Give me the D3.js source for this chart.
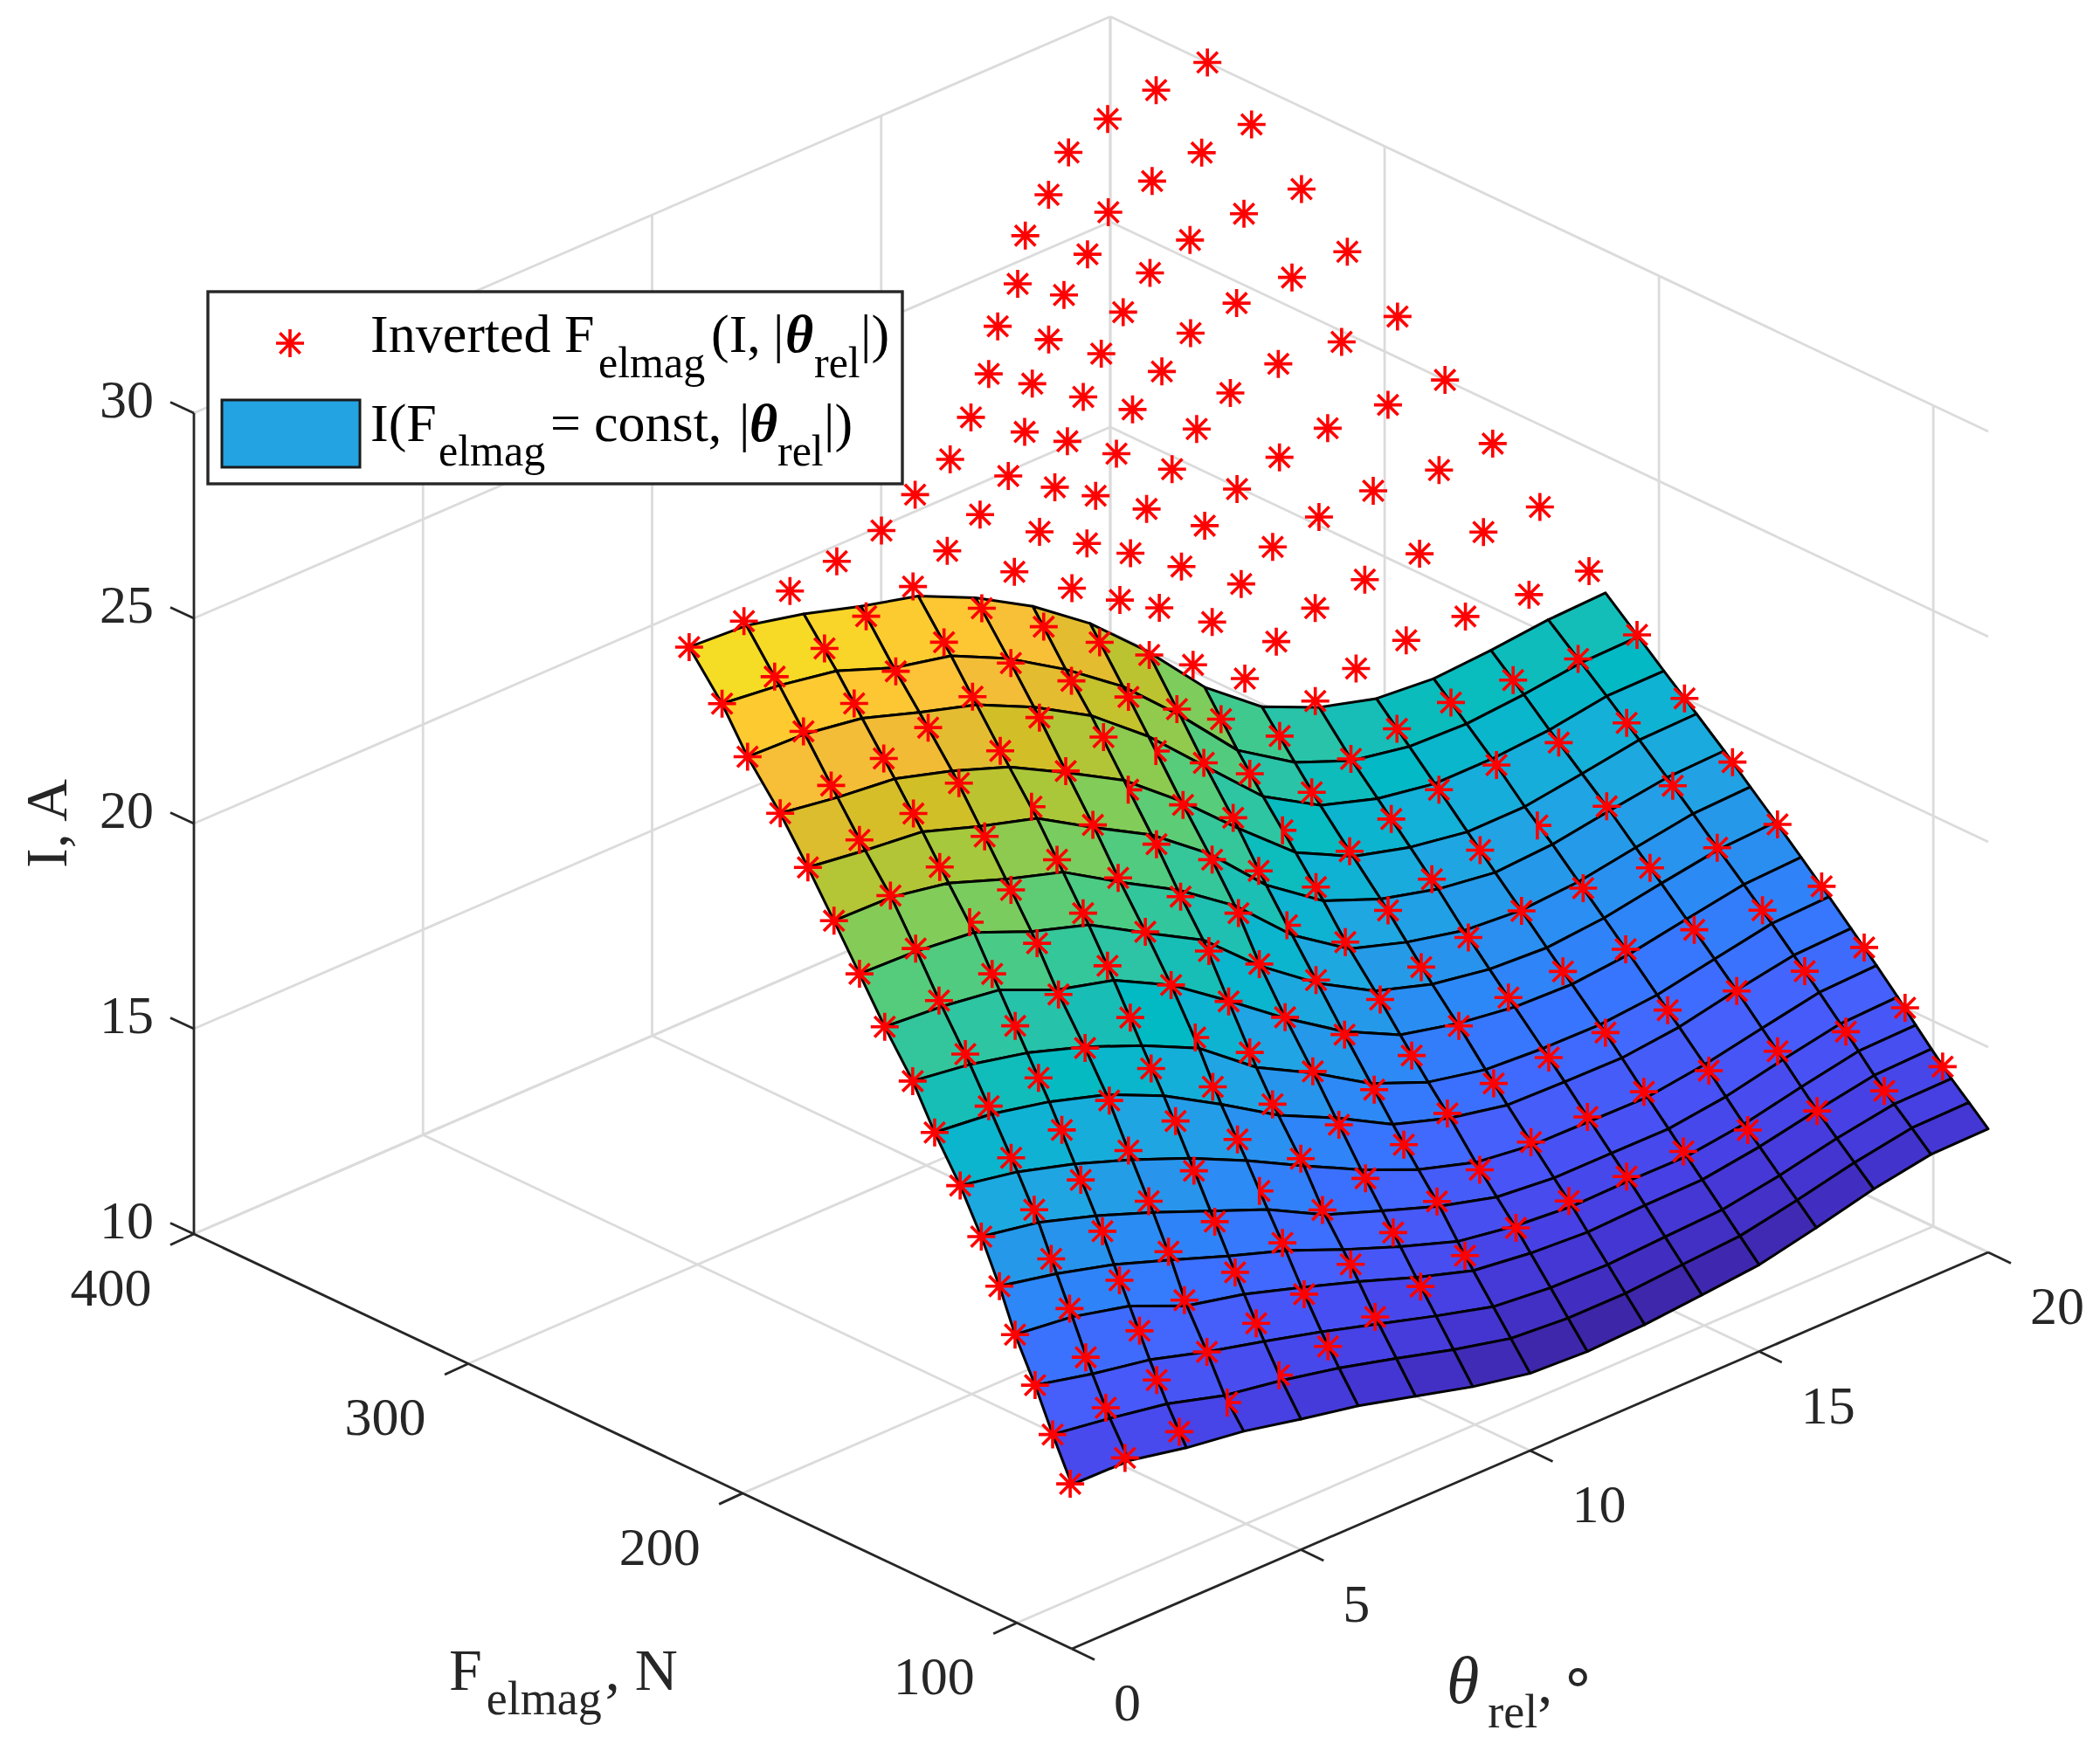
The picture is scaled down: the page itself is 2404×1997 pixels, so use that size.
<!DOCTYPE html>
<html>
<head>
<meta charset="utf-8">
<script src="https://cdn.jsdelivr.net/npm/d3@7"></script>
<style>
    html, body { margin: 0; padding: 0; background: #fff; }
    text { font-family: "Liberation Serif", serif; }
</style>
</head>
<body>
<script>
// values
const thetaTicks = [0, 5, 10, 15, 20];
const forceTicks = [100, 200, 300, 400];
const currentTicks = [10, 15, 20, 25, 30];

const thetaValues = [0, 1.25, 2.5, 3.75, 5, 6.25, 7.5, 8.75, 10, 11.25, 12.5, 13.75, 15, 16.25, 17.5, 18.75, 20];
const forceRows = [80, 87, 93.4, 100.7, 106.4, 113, 120.7, 130, 138, 148.2, 157.4, 166.7, 176.2, 186.3, 198.2, 207.5, 219.5];
const currentLevels = [14, 15, 16, 17, 18, 19, 20, 21, 22, 23, 24, 25, 26, 27, 28, 29, 30];

// I(F, theta): one row per forceRows entry, one column per thetaValues entry
const surfaceCurrent = [
    [14, 13.98, 13.69, 13.49, 13.18, 12.9, 12.53, 12.16, 11.88, 11.81, 11.86, 11.98, 12.11, 12.41, 12.75, 12.99, 13.01],
    [15, 14.79, 14.54, 14.14, 13.9, 13.6, 13.23, 12.84, 12.51, 12.4, 12.4, 12.5, 12.59, 12.86, 13.17, 13.41, 13.43],
    [16, 15.67, 15.41, 15, 14.65, 14.28, 13.87, 13.46, 13.08, 12.94, 12.9, 12.97, 13.03, 13.26, 13.56, 13.79, 13.81],
    [17, 16.83, 16.49, 15.89, 15.57, 15.13, 14.67, 14.17, 13.73, 13.55, 13.46, 13.51, 13.53, 13.73, 14.01, 14.26, 14.3],
    [18, 17.7, 17.32, 16.83, 16.32, 15.85, 15.27, 14.74, 14.26, 14.03, 13.91, 13.93, 13.92, 14.1, 14.4, 14.67, 14.7],
    [19, 18.74, 18.3, 17.78, 17.21, 16.64, 15.91, 15.4, 14.91, 14.53, 14.39, 14.39, 14.38, 14.56, 14.86, 15.13, 15.18],
    [20, 19.73, 19.32, 18.82, 18.25, 17.59, 16.86, 16.16, 15.56, 15.13, 14.95, 14.93, 14.91, 15.1, 15.38, 15.65, 15.7],
    [21, 20.85, 20.54, 20.11, 19.48, 18.67, 17.8, 17.13, 16.37, 15.92, 15.63, 15.59, 15.57, 15.72, 16.01, 16.26, 16.31],
    [22, 21.8, 21.48, 21.02, 20.45, 19.78, 18.71, 17.97, 17.11, 16.54, 16.24, 16.15, 16.13, 16.25, 16.52, 16.78, 16.83],
    [23, 22.89, 22.69, 22.09, 21.72, 21, 20.01, 18.98, 18.06, 17.37, 17.04, 16.84, 16.79, 16.92, 17.17, 17.41, 17.47],
    [24, 23.95, 23.8, 23.22, 22.78, 21.98, 21.2, 19.96, 18.94, 18.15, 17.71, 17.47, 17.39, 17.51, 17.75, 17.97, 18.04],
    [25, 24.97, 24.71, 24.2, 23.77, 22.92, 22.13, 21.14, 19.82, 18.88, 18.44, 18.12, 18.01, 18.1, 18.33, 18.55, 18.6],
    [26, 25.81, 25.66, 25.19, 24.78, 23.95, 23.17, 22.11, 20.74, 19.75, 19.19, 18.83, 18.63, 18.71, 18.93, 19.13, 19.18],
    [27, 26.78, 26.63, 26.22, 25.71, 24.97, 24.18, 23.07, 21.8, 20.61, 19.91, 19.53, 19.3, 19.31, 19.51, 19.73, 19.76],
    [28, 27.95, 27.73, 27.27, 26.85, 26.19, 25.38, 24.27, 22.93, 21.6, 20.78, 20.34, 20.1, 20.1, 20.2, 20.42, 20.43],
    [29, 28.84, 28.59, 28.06, 27.75, 27.08, 26.21, 25.19, 23.88, 22.43, 21.53, 20.97, 20.71, 20.66, 20.77, 20.94, 20.97],
    [30, 29.92, 29.6, 29.18, 28.83, 28.18, 27.37, 26.35, 25.07, 23.59, 22.51, 21.89, 21.5, 21.38, 21.47, 21.61, 21.66]
];

// F(I, theta): one row per currentLevels entry, one column per thetaValues entry
const invertedForce = [
    [80.6, 81.5, 82.6, 86, 88, 91, 94.7, 99, 103.7, 106, 107.6, 107.4, 107.6, 105, 100.6, 97, 96.6],
    [87, 88.5, 90.8, 93.4, 96.3, 99.7, 103.6, 109, 113.9, 119.2, 121.4, 121.7, 122, 119.2, 115, 111, 110.3],
    [93.4, 95.8, 97.1, 101.6, 104, 107.6, 113.9, 119.1, 126, 131, 135, 135.8, 136, 134.2, 129.9, 126, 125.2],
    [100.7, 101.7, 104.4, 107.4, 111.4, 116, 121.8, 128.8, 136.8, 144, 147.7, 150.5, 151.5, 149.5, 145.4, 141.4, 140.7],
    [106.4, 108.4, 110.6, 114.6, 119, 124, 132.1, 138.3, 147.6, 155.5, 161.4, 165.1, 166.6, 165, 161.5, 157.9, 156.8],
    [113, 114.6, 118.5, 122, 125.7, 133, 140.4, 148.4, 158, 168.2, 173.5, 178.4, 181.7, 181.7, 177.3, 174.1, 173.2],
    [120.7, 123, 125.4, 129, 134.6, 139.4, 148.1, 157.8, 168.6, 178.9, 187.5, 193.2, 196.7, 196.6, 194.8, 190.9, 190.7],
    [130, 131.2, 133.9, 137.8, 142.2, 148.2, 155.3, 165.4, 178.9, 191.1, 201.3, 207.9, 212, 213.2, 211.4, 208.6, 208],
    [138, 139.7, 142.4, 147.5, 150.5, 157.6, 165.6, 175, 188.2, 203, 213, 220.9, 226.9, 229.5, 228.8, 226.5, 225.5],
    [148.2, 149.3, 150.8, 155.3, 159.4, 167.5, 174.4, 185.6, 198.9, 213.5, 225.7, 235.1, 241.8, 244.6, 245.5, 243.1, 243.4],
    [157.4, 157.8, 159, 164.8, 168.9, 176.7, 184.7, 195.5, 208.7, 223.7, 237.6, 247.9, 257.3, 261.3, 262.4, 259.3, 260.6],
    [166.7, 167, 169.9, 174.4, 178.2, 186.6, 193.7, 205.5, 218.8, 236, 248.8, 261.2, 270.3, 275.7, 279, 277.9, 278],
    [176.2, 178.3, 179.5, 183.8, 189.6, 196.2, 205.4, 216, 229.5, 246.5, 261.5, 273.1, 285, 293.6, 297, 294.8, 295.3],
    [186.3, 188.6, 190.3, 195, 199.7, 206.6, 215.5, 226.1, 241.5, 259.2, 272.5, 287.5, 297.7, 308.1, 312.2, 312.9, 313.6],
    [198.2, 198.7, 201.1, 206.8, 210.1, 217.2, 226.2, 237.9, 253.2, 269.5, 284.6, 298.9, 311.8, 322.9, 329.2, 330.4, 330.3],
    [207.5, 209.2, 211.9, 217.6, 221.4, 229.8, 238.7, 249.3, 264.2, 282.3, 297.2, 312.5, 324.8, 338.1, 343, 345.8, 348.5],
    [219.5, 220.4, 224.5, 228.3, 232.9, 241.5, 249.6, 262.9, 277.3, 294.9, 308.5, 326.6, 339, 352.6, 359.2, 362.4, 364.6]
];

// markers the surface half covers: [current, theta]
const halfHidden = [[24, 2.5], [25, 5], [17, 6.25], [21, 11.25], [20, 10], [20, 6.25], [24, 7.5], [24, 8.75], [19, 16.25], [14, 3.75], [14, 5]];

// parula colormap samples
const parula = ["#3e26a8", "#4332cb", "#4741e5", "#4852f4", "#4563fd", "#3875fe", "#2d87f7", "#2796eb", "#20a5e3", "#12b1d6", "#02bac3",
    "#24c1ae", "#37c897", "#57cc7a", "#81cc59", "#abc739", "#d1bf27", "#efba36", "#fec338", "#fcce2d", "#f5e023", "#f9fb0e"];

const width = 2404,
    height = 1997,
    origin = { x: 1227, y: 1888 };

// orthographic projection: every data axis moves the point along a fixed screen direction
const thetaX = d3.scaleLinear().domain([0, 20]).range([0, 1049]);
const thetaY = d3.scaleLinear().domain([0, 20]).range([0, -454]);
const forceX = d3.scaleLinear().domain([80, 400]).range([0, -1005]);
const forceY = d3.scaleLinear().domain([80, 400]).range([0, -475]);
const currentY = d3.scaleLinear().domain([10, 30]).range([0, -940]);

const project = (theta, force, current) => [
    origin.x + thetaX(theta) + forceX(force),
    origin.y + thetaY(theta) + forceY(force) + currentY(current)
];

const color = d3.scaleLinear()
    .domain(d3.range(parula.length).map(i => 11.81 + i * (30 - 11.81) / (parula.length - 1)))
    .range(parula);

const svg = d3.select("body")
    .append("svg")
    .attr("width", width)
    .attr("height", height)
    .style("display", "block");

const line = d3.line();

function drawSegment(g, a, b, stroke, w) {
    g.append("path")
        .attr("d", line([a, b]))
        .attr("fill", "none")
        .attr("stroke", stroke)
        .attr("stroke-width", w);
}

// grid on the floor and the two back walls
const grid = svg.append("g");
const gridColor = "#dbdbdb",
    gridWidth = 2.8;

thetaTicks.forEach(t => {
    drawSegment(grid, project(t, 80, 10), project(t, 400, 10), gridColor, gridWidth);
    if (t > 0) drawSegment(grid, project(t, 400, 10), project(t, 400, 30), gridColor, gridWidth);
});
forceTicks.forEach(f => {
    drawSegment(grid, project(0, f, 10), project(20, f, 10), gridColor, gridWidth);
    drawSegment(grid, project(20, f, 10), project(20, f, 30), gridColor, gridWidth);
});
drawSegment(grid, project(20, 80, 10), project(20, 400, 10), gridColor, gridWidth);
currentTicks.forEach(c => {
    drawSegment(grid, project(0, 400, c), project(20, 400, c), gridColor, gridWidth);
    drawSegment(grid, project(20, 400, c), project(20, 80, c), gridColor, gridWidth);
});

// axes and ticks
const axes = svg.append("g");
const axisColor = "#262626",
    axisWidth = 2.8;

drawSegment(axes, project(0, 400, 10), project(0, 80, 10), axisColor, axisWidth);
drawSegment(axes, project(0, 80, 10), project(20, 80, 10), axisColor, axisWidth);
drawSegment(axes, project(0, 400, 10), project(0, 400, 30), axisColor, axisWidth);

const tickFont = 62;

forceTicks.forEach(f => {
    const p = project(0, f, 10);
    drawSegment(axes, p, [p[0] - 27, p[1] + 12.5], axisColor, axisWidth);
    axes.append("text")
        .attr("x", p[0] - 95)
        .attr("y", p[1] + 62 + 20)
        .attr("text-anchor", "middle")
        .attr("font-size", tickFont)
        .attr("fill", axisColor)
        .text(f);
});

thetaTicks.forEach(t => {
    const p = project(t, 80, 10);
    drawSegment(axes, p, [p[0] + 26, p[1] + 12.5], axisColor, axisWidth);
    axes.append("text")
        .attr("x", p[0] + 48)
        .attr("y", p[1] + 62 + 20)
        .attr("font-size", tickFont)
        .attr("fill", axisColor)
        .text(t);
});

currentTicks.forEach(c => {
    const p = project(0, 400, c);
    drawSegment(axes, p, [p[0] - 27, p[1] - 12.5], axisColor, axisWidth);
    axes.append("text")
        .attr("x", 176)
        .attr("y", p[1] - 15 + 20)
        .attr("text-anchor", "end")
        .attr("font-size", tickFont)
        .attr("fill", axisColor)
        .text(c);
});

// axis labels
const labelFont = 68,
    subFont = 54;

axes.append("text")
    .attr("transform", "translate(54,943) rotate(-90)")
    .attr("text-anchor", "middle")
    .attr("dy", "0.33em")
    .attr("font-size", labelFont)
    .attr("fill", axisColor)
    .text("I, A");

const forceLabel = axes.append("text")
    .attr("x", 514)
    .attr("y", 1935)
    .attr("font-size", labelFont)
    .attr("fill", axisColor);
forceLabel.append("tspan").text("F");
forceLabel.append("tspan").attr("font-size", subFont).attr("dx", 5).attr("dy", 28).text("elmag");
forceLabel.append("tspan").attr("dx", 4).attr("dy", -28).text(", N");

const thetaLabel = axes.append("text")
    .attr("x", 1656)
    .attr("y", 1950)
    .attr("font-size", labelFont)
    .attr("fill", axisColor);
thetaLabel.append("tspan").attr("font-style", "italic").attr("font-size", 76).text("θ");
thetaLabel.append("tspan").attr("font-size", subFont).attr("dx", 10).attr("dy", 28).text("rel");
thetaLabel.append("tspan").attr("dy", -28).text(",");
thetaLabel.append("tspan").attr("dx", 8).attr("dy", -8).text("∘");

// surface faces, far corner first so nearer faces cover farther ones
const faces = [];
for (let i = forceRows.length - 2; i >= 0; i--) {
    for (let j = thetaValues.length - 2; j >= 0; j--) {
        faces.push({ i, j });
    }
}

const node = (i, j) => project(thetaValues[j], forceRows[i], surfaceCurrent[i][j]);

svg.append("g")
    .selectAll("path")
    .data(faces)
    .join("path")
    .attr("d", d => line([node(d.i, d.j), node(d.i, d.j + 1), node(d.i + 1, d.j + 1), node(d.i + 1, d.j)]) + "Z")
    .attr("fill", d => color(surfaceCurrent[d.i][d.j]))
    .attr("stroke", "#000")
    .attr("stroke-width", 3)
    .attr("stroke-linejoin", "round");

// asterisk markers
const spokes = [[0, -16], [0, 16], [16, 0], [-16, 0], [11.7, -11.7], [11.7, 11.7], [-11.7, -11.7], [-11.7, 11.7]];

const asterisk = (x, y, half) => spokes
    .filter(s => !half || s[0] >= 0)
    .map(s => `M${x},${y}L${x + s[0]},${y + s[1]}`)
    .join("");

const markers = [];
currentLevels.forEach((c, k) => {
    thetaValues.forEach((t, j) => {
        markers.push({ c, t, f: invertedForce[k][j] });
    });
});

const isHalf = d => halfHidden.some(h => h[0] === d.c && h[1] === d.t);

svg.append("g")
    .selectAll("path")
    .data(markers)
    .join("path")
    .attr("d", d => {
        const p = project(d.t, d.f, d.c);
        return asterisk(p[0], p[1], isHalf(d));
    })
    .attr("fill", "none")
    .attr("stroke", "#ff0000")
    .attr("stroke-width", 3.6);

// legend
const legend = svg.append("g");

legend.append("rect")
    .attr("x", 238)
    .attr("y", 334)
    .attr("width", 795)
    .attr("height", 220)
    .attr("fill", "#fff")
    .attr("stroke", axisColor)
    .attr("stroke-width", 3.4);

legend.append("path")
    .attr("d", asterisk(332, 393, false))
    .attr("fill", "none")
    .attr("stroke", "#ff0000")
    .attr("stroke-width", 3.6);

legend.append("rect")
    .attr("x", 254)
    .attr("y", 458)
    .attr("width", 158)
    .attr("height", 77)
    .attr("fill", "#23a3e2")
    .attr("stroke", "#1a1a1a")
    .attr("stroke-width", 3);

function legendText(items) {
    items.forEach(d => {
        const t = legend.append("text")
            .attr("x", d.x)
            .attr("y", d.y)
            .attr("font-size", d.size || 62)
            .attr("fill", "#000")
            .text(d.s);
        if (d.theta) t.attr("font-style", "italic").attr("font-weight", "bold");
    });
}

legendText([
    { x: 424, y: 403, s: "Inverted F" },
    { x: 685, y: 432, s: "elmag", size: 50 },
    { x: 814, y: 403, s: "(I," },
    { x: 885, y: 403, s: "|" },
    { x: 899, y: 403, s: "θ", theta: true },
    { x: 932, y: 432, s: "rel", size: 50 },
    { x: 985, y: 403, s: "|)" },
    { x: 424, y: 505, s: "I(F" },
    { x: 502, y: 533, s: "elmag", size: 50 },
    { x: 630, y: 505, s: "=" },
    { x: 680, y: 505, s: "const," },
    { x: 846, y: 505, s: "|" },
    { x: 858, y: 505, s: "θ", theta: true },
    { x: 890, y: 533, s: "rel", size: 50 },
    { x: 943, y: 505, s: "|)" }
]);
</script>
</body>
</html>
